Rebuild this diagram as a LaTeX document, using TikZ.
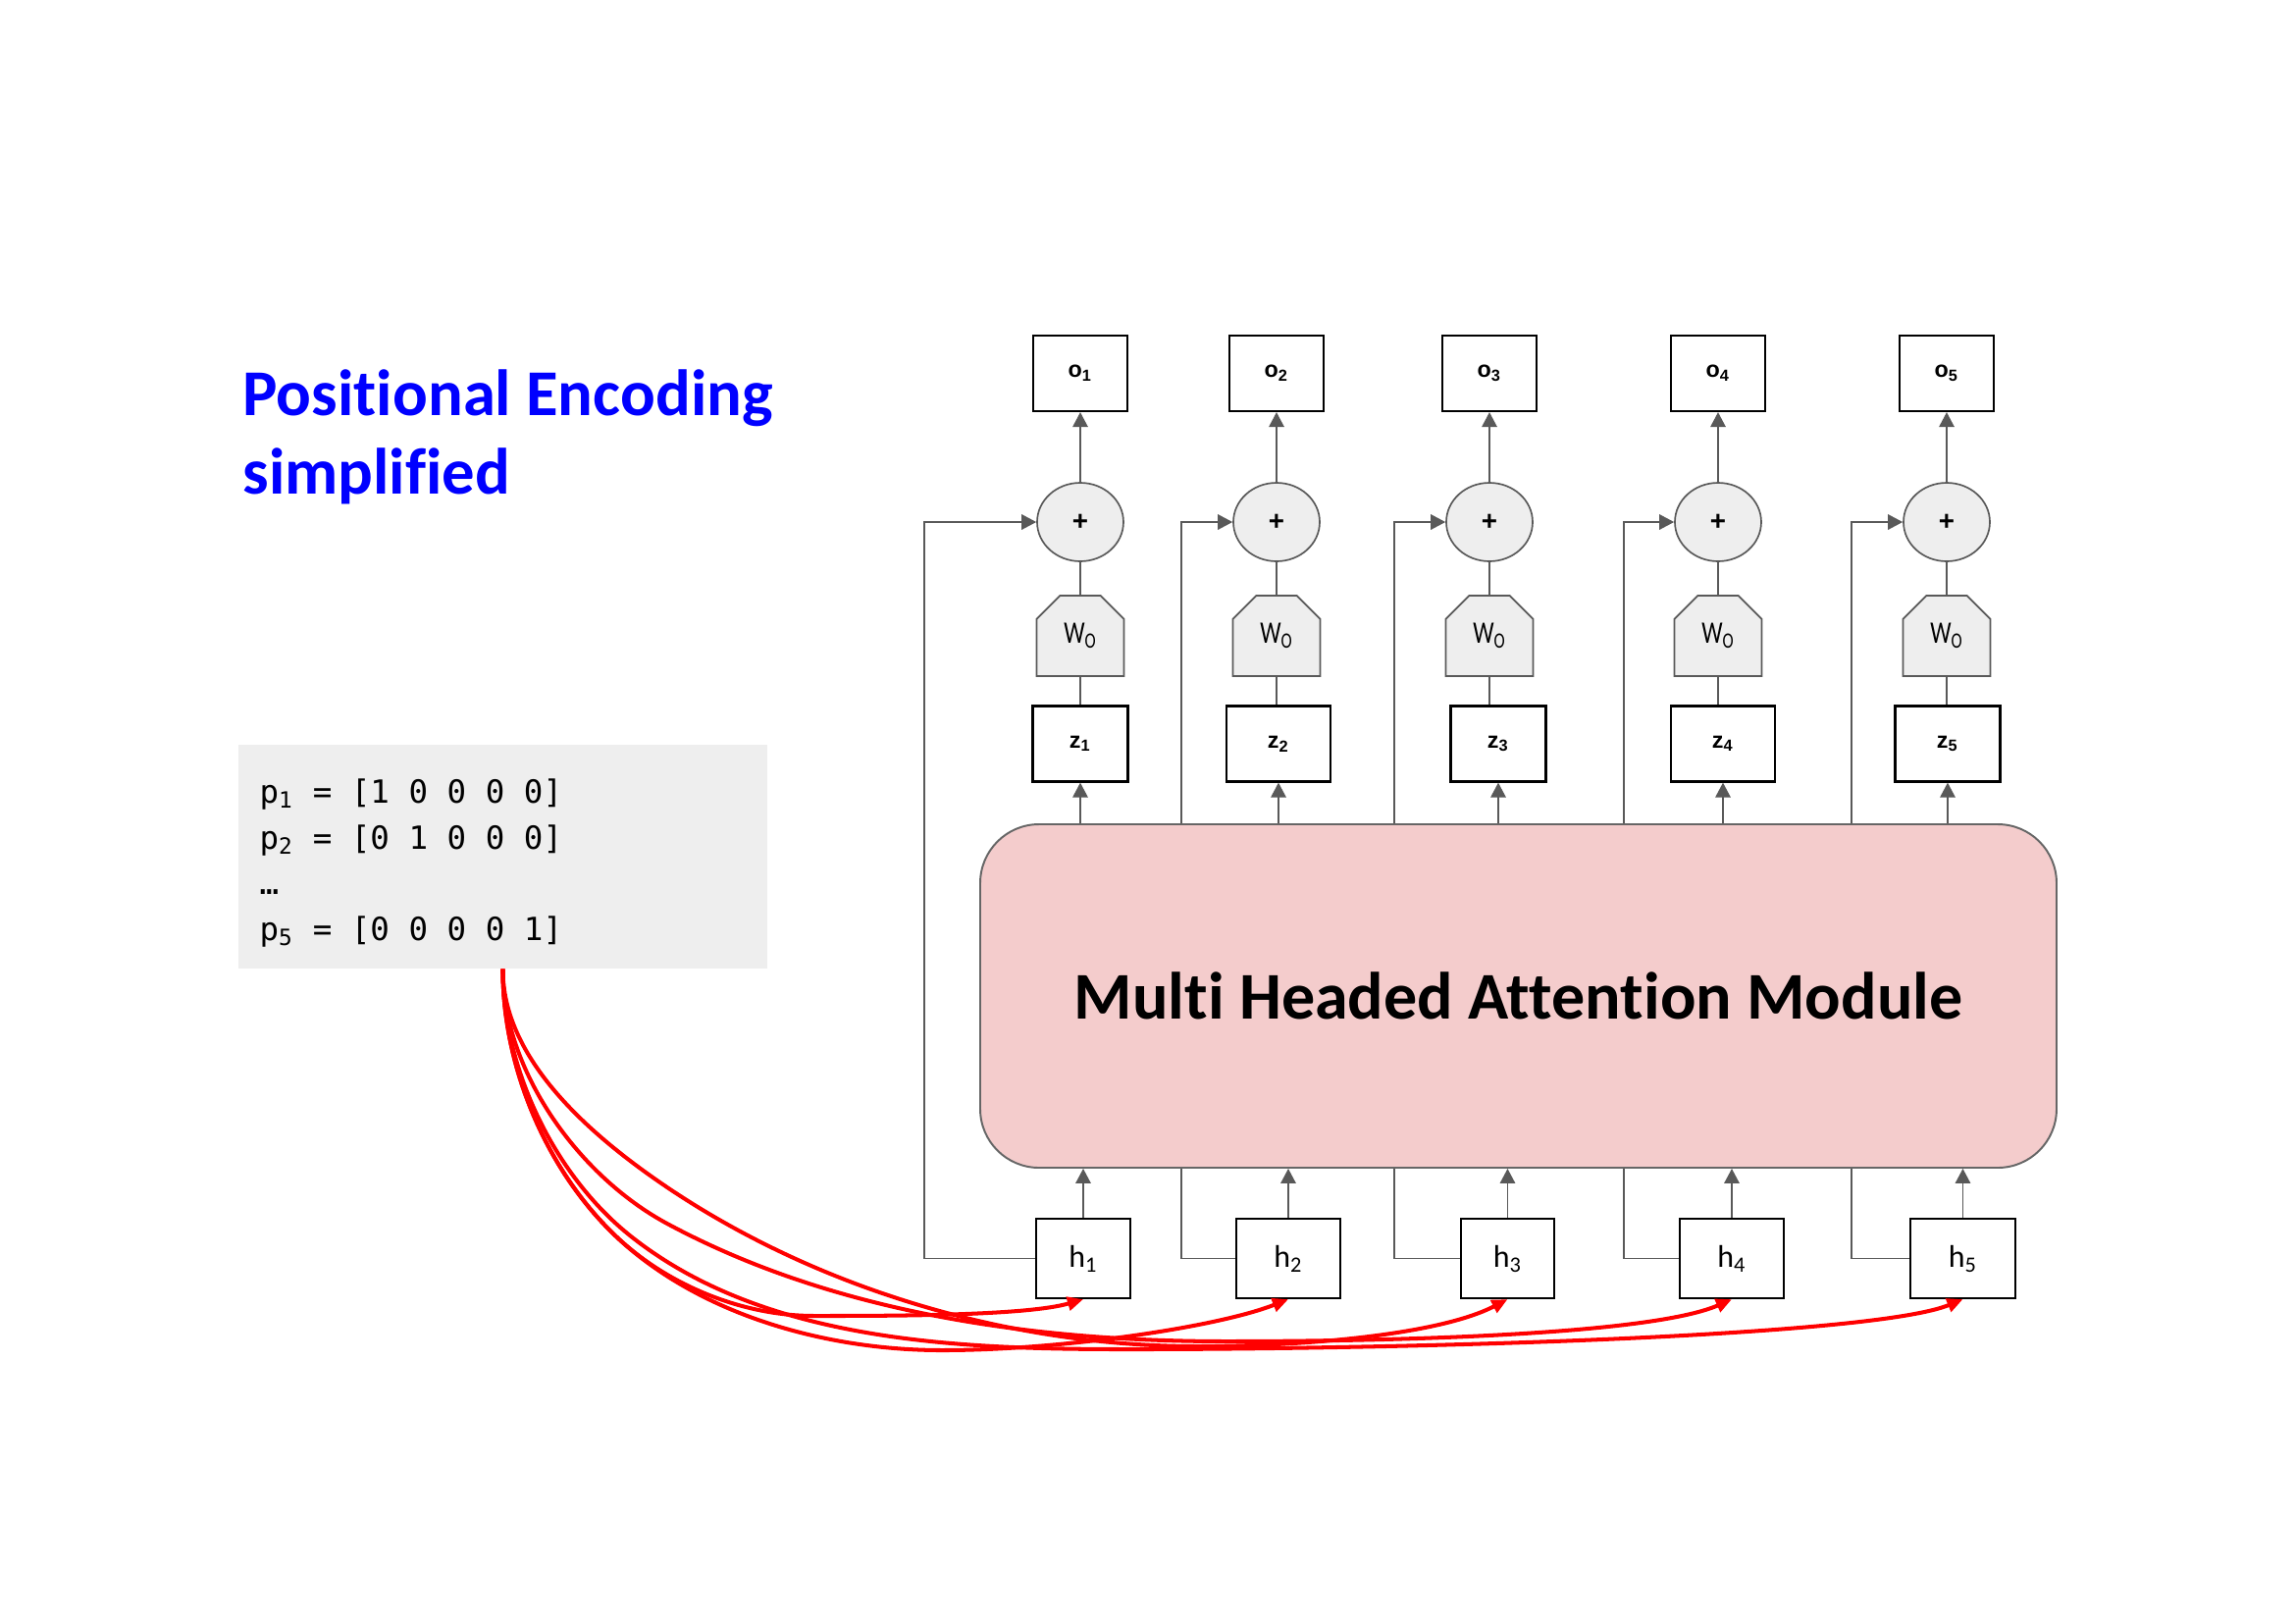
\documentclass[tikz,border=0pt]{standalone}
\usepackage{fontspec}
\usepackage{graphicx}
\usetikzlibrary{arrows.meta,shapes.geometric,shapes.misc,calc}
\newfontfamily\carlito[Ligatures=NoCommon]{Carlito}
\newfontfamily\libsans{Liberation Sans}
\newfontfamily\dmono{DejaVu Sans Mono}
\definecolor{lineg}{HTML}{595959}
\definecolor{fillg}{HTML}{EEEEEE}
\definecolor{mhafill}{HTML}{F4CCCC}
\definecolor{mhadraw}{HTML}{666666}
\definecolor{pblue}{HTML}{0000FF}
\definecolor{pred}{HTML}{FF0000}
\begin{document}
\begin{tikzpicture}[x=0.36pt,y=-0.36pt,
  obox/.style={draw=black, line width=0.8pt, fill=white, inner sep=0pt,
    minimum width=34.56pt, minimum height=27.72pt,
    font={\libsans\bfseries\fontsize{8.4}{10}\selectfont}},
  hbox/.style={draw=black, line width=0.8pt, fill=white, inner sep=0pt,
    minimum height=29.16pt, font={\carlito\fontsize{11.5}{13}\selectfont}},
  plus/.style={ellipse, draw=lineg, fill=fillg, line width=0.6pt, inner sep=0pt,
    minimum width=31.68pt, minimum height=28.8pt,
    font={\libsans\bfseries\fontsize{10}{12}\selectfont}},
  wo/.style={chamfered rectangle, chamfered rectangle corners={north west,north east},
    chamfered rectangle xsep=4.3pt, chamfered rectangle ysep=4.3pt,
    draw=lineg, fill=fillg, line width=0.6pt, inner sep=0pt,
    minimum width=32.04pt, minimum height=29.52pt,
    font={\carlito\fontsize{11.5}{13}\selectfont}},
  gline/.style={draw=lineg, line width=0.5pt},
  garrow/.style={gline, -{Triangle[length=5.4pt,width=5.6pt]}},
  rarrow/.style={draw=pred, line width=1.45pt, -{Triangle[length=5.8pt,width=5pt]}},
  ptext/.style={anchor=base west, inner sep=0pt, font={\dmono\fontsize{11.7}{14}\selectfont}},
  ttext/.style={anchor=base west, inner sep=0pt, text=pblue,
    font={\carlito\bfseries\fontsize{24}{29}\selectfont}}
]
\useasboundingbox (0,0) rectangle (2339,1654);
\fill[white] (0,0) rectangle (2339,1654);

% title
\node[ttext] (t1) at (247,423) {Positional Encoding};
\node[ttext] (t2) at (247,503) {simplified};

% positional encoding box
\node[fill=fillg, inner sep=0pt, minimum width=194.04pt, minimum height=82.08pt] (pe) at (512.5,873) {};
\node[ptext] (p1) at (264,818) {p\textsubscript{1} = [1 0 0 0 0]};
\node[ptext] (p2) at (264,865) {p\textsubscript{2} = [0 1 0 0 0]};
\node[ptext] (pd) at (264,911) {…};
\node[ptext] (p5) at (264,958) {p\textsubscript{5} = [0 0 0 0 1]};

% columns
\foreach \i/\cx/\zx/\zw/\hx/\hw in {1/1101/1101/34.92/1104/34.56, 2/1301/1303/38.16/1313/38.16,
  3/1518/1527/34.92/1536.5/34.2, 4/1751/1756/38.16/1765/38.16, 5/1984/1985/38.52/2000.5/38.52}{
  \node[obox] (o\i) at (\cx,380.5) {o\textsubscript{\i}};
  \node[plus] (c\i) at (\cx,532) {+};
  \node[wo] (w\i) at (\cx,648) {\scalebox{0.75}[1]{W\textsubscript{O}}};
  \node[obox, minimum width=\zw pt] (z\i) at (\zx,758) {z\textsubscript{\i}};
  \node[hbox, minimum width=\hw pt] (h\i) at (\hx,1282.5) {h\textsubscript{\i}};
}

% residual connections
\foreach \i/\fb in {1/113,2/55,3/67,4/56,5/59}
  \draw[garrow] (h\i.west) -- ++(-\fb,0) |- (c\i.west);

% attention module
\node[draw=mhadraw, fill=mhafill, line width=0.7pt, rounded corners=21.6pt,
  minimum width=394.92pt, minimum height=126pt, inner sep=0pt,
  font={\carlito\bfseries\fontsize{24.5}{29}\selectfont}] (mha) at (1547.5,1015)
  {Multi Headed Attention Module};

\foreach \i in {1,...,5}{
  \draw[garrow] (c\i.north) -- (o\i.south);
  \draw[gline] (w\i.north) -- (c\i.south);
  \draw[gline] (w\i.south) -- (w\i.south |- z\i.north);
  \draw[garrow] (z\i.south |- mha.north) -- (z\i.south);
  \draw[garrow] (h\i.north) -- (h\i.north |- mha.south);
}

% red curves
\draw[rarrow] (pe.south) .. controls (512,1087) and (557,1194) .. (630,1262)
  .. controls (683,1311) and (758,1341) .. (830,1341)
  .. controls (920,1341) and (1047,1340.5) .. (h1.south);
\draw[rarrow] (pe.south) .. controls (512,1087) and (557,1194) .. (630,1262)
  .. controls (715,1341) and (844,1376) .. (960,1376)
  .. controls (1079,1376) and (1239,1353) .. (h2.south);
\draw[rarrow] (pe.south) .. controls (512,1080) and (603,1158) .. (680,1210)
  .. controls (836,1315) and (1032,1372) .. (1220,1372)
  .. controls (1327,1372) and (1466,1360.6) .. (h3.south);
\draw[rarrow] (pe.south) .. controls (512,1090) and (589,1198) .. (680,1247)
  .. controls (851,1339) and (1056,1367) .. (1250,1367)
  .. controls (1422,1367) and (1683,1360) .. (h4.south);
\draw[rarrow] (pe.south) .. controls (512,1089) and (566,1201) .. (647,1263)
  .. controls (783,1368) and (978,1375) .. (1150,1375)
  .. controls (1433,1375) and (1908,1362) .. (h5.south);
\end{tikzpicture}
\end{document}
